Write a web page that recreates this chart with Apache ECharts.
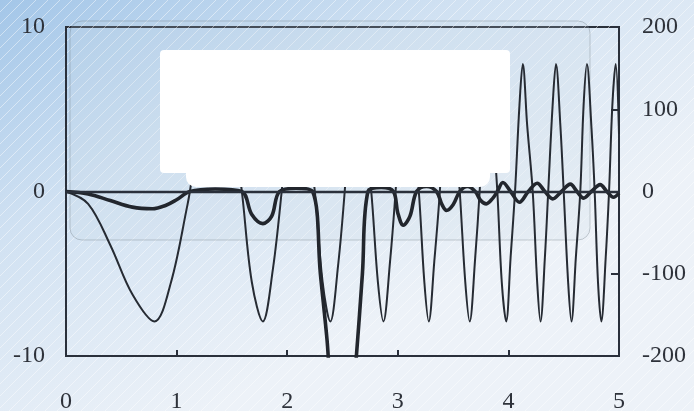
<!DOCTYPE html>
<html><head><meta charset="utf-8">
<script src="https://cdn.jsdelivr.net/npm/echarts@6/dist/echarts.min.js"></script>
<style>html,body{margin:0;padding:0;}#c{width:694px;height:411px;}</style>
</head><body><div id="c"></div>
<script>
// x positions and values
var xTicks = [0, 1, 2, 3, 4, 5];
var leftTicks = [-10, 0, 10];
var rightTicks = [-200, -100, 0, 100, 200];

// thin line (right axis)
var thinX = [0.00,0.20,0.40,0.60,0.80,0.95,1.10,1.12,1.25,1.38,1.50,1.59,1.68,1.78,1.87,1.95,2.02,2.09,2.17,2.25,2.32,2.39,2.46,2.52,2.57,2.62,2.69,2.76,2.82,2.87,2.93,2.98,3.03,3.07,3.13,3.19,3.24,3.28,3.33,3.38,3.42,3.46,3.51,3.56,3.61,3.65,3.70,3.74,3.78,3.81,3.86,3.90,3.94,3.98,4.02,4.06,4.10,4.13,4.17,4.22,4.26,4.29,4.33,4.36,4.40,4.43,4.47,4.50,4.54,4.57,4.61,4.65,4.68,4.71,4.75,4.78,4.81,4.84,4.88,4.91,4.94,4.97,5.00];
var thinY = [0,-15,-65,-125,-158,-110,-15,0,110,155,90,0,-110,-158,-95,0,100,155,90,0,-110,-158,-90,0,100,155,85,0,-110,-158,-85,0,105,155,85,0,-110,-158,-85,0,105,155,85,0,-110,-158,-80,0,105,155,80,0,-110,-158,-80,0,105,155,80,0,-110,-158,-80,0,105,155,80,0,-110,-158,-80,0,105,155,80,0,-110,-158,-80,0,105,155,70];

// thick line (left axis)
var thickX = [0.00,0.20,0.40,0.60,0.78,0.90,1.00,1.12,1.35,1.59,1.68,1.78,1.86,1.93,2.08,2.23,2.30,2.36,2.45,2.55,2.62,2.68,2.73,2.85,2.96,3.00,3.05,3.11,3.17,3.26,3.35,3.40,3.44,3.50,3.56,3.63,3.70,3.75,3.80,3.86,3.90,3.95,4.02,4.10,4.18,4.26,4.33,4.40,4.48,4.56,4.62,4.68,4.75,4.83,4.89,4.95,5.00];
var thickY = [0,-0.15,-0.55,-0.95,-1.05,-0.85,-0.5,0,0.15,0,-1.4,-1.95,-1.5,0,0.2,0,-5,-9,-16,-16,-10.5,-5,0,0.25,0,-1.3,-2.05,-1.5,0,0.3,0,-0.8,-1.15,-0.8,0,0.3,0,-0.55,-0.75,-0.4,0,0.55,0,-0.65,0,0.5,0,-0.45,0,0.45,0,-0.4,0,0.42,0,-0.35,-0.1];

function pairs(xs, ys){ return xs.map(function(x,i){ return [x, ys[i]]; }); }

// faint diagonal hatching like the printed background
var pc = document.createElement('canvas');
pc.width = 12; pc.height = 12;
var g = pc.getContext('2d');
g.strokeStyle = 'rgba(255,255,255,0.45)';
g.lineWidth = 1;
g.beginPath(); g.moveTo(0,12); g.lineTo(12,0); g.moveTo(-6,6); g.lineTo(6,-6); g.moveTo(6,18); g.lineTo(18,6); g.stroke();

var chart = echarts.init(document.getElementById('c'), null, {renderer:'canvas'});
var font = 'Liberation Serif';
var lab = {fontFamily: font, fontSize: 24, color: '#2e323a'};
chart.setOption({
  backgroundColor: {type:'linear', x:0, y:0, x2:0.3, y2:1, colorStops:[
    {offset:0, color:'#a3c6e8'},{offset:0.45, color:'#d0e1f2'},{offset:1, color:'#edf2f8'}]},
  animation: false,
  grid: {left: 66, right: 75, top: 27, bottom: 55, show: true, containLabel:false, outerBoundsMode:'none',
    borderColor: '#2a303b', borderWidth: 2, backgroundColor: 'transparent'},
  xAxis: {type:'value', min:0, max:5, interval:1,
    axisLine:{onZero:false, lineStyle:{color:'#2a303b', width:2}},
    axisTick:{inside:true, length:6, lineStyle:{color:'#2a303b', width:2}},
    axisLabel: Object.assign({margin: 34}, lab),
    splitLine:{show:false}},
  yAxis: [
    {type:'value', min:-10, max:10, interval:10, position:'left',
      axisLine:{show:true, lineStyle:{color:'#2a303b', width:2}},
      axisTick:{show:false},
      axisLabel: Object.assign({margin: 21}, lab),
      splitLine:{show:false}},
    {type:'value', min:-200, max:200, interval:100, position:'right',
      axisLine:{show:true, lineStyle:{color:'#2a303b', width:2}},
      axisTick:{inside:true, length:8, lineStyle:{color:'#2a303b', width:2}},
      axisLabel: Object.assign({margin: 23}, lab),
      splitLine:{show:false}}
  ],
  graphic: [
    {type:'rect', z: 0, silent:true, shape:{x:0, y:0, width:694, height:411},
      style:{fill:{image: pc, repeat:'repeat'}}},
    {type:'rect', z: 1, shape:{x:70, y:21, width:520, height:219, r:12},
      style:{fill:'rgba(200,215,230,0.18)', stroke:'rgba(110,120,130,0.35)', lineWidth:1}},
    {type:'rect', z: 100, shape:{x:160, y:50, width:350, height:123, r:4}, style:{fill:'#ffffff'}},
    {type:'rect', z: 100, shape:{x:186, y:55, width:304, height:132, r:10}, style:{fill:'#ffffff'}}
  ],
  series: [
    {type:'line', yAxisIndex:1, data: pairs(thinX, thinY), smooth:0.35, showSymbol:false,
      lineStyle:{color:'#262b33', width:2}, clip:true, z:3},
    {type:'line', yAxisIndex:0, data: pairs(thickX, thickY), smooth:0.35, showSymbol:false,
      lineStyle:{color:'#22262d', width:3.6}, clip:true, z:4,
      markLine:{silent:true, symbol:'none', label:{show:false},
        lineStyle:{color:'#2a303b', width:2.4, type:'solid'}, data:[{yAxis:0}]}}
  ]
});
</script></body></html>
